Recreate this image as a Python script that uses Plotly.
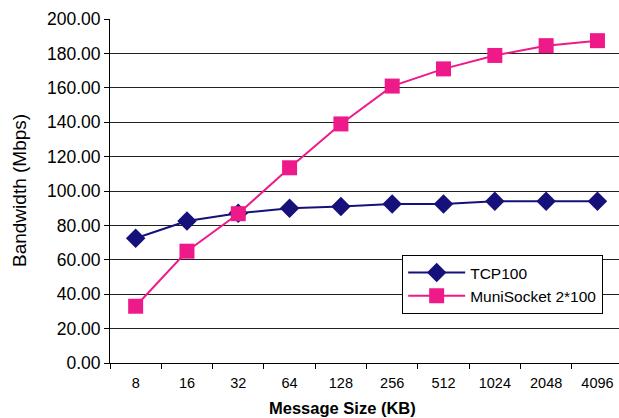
import plotly.graph_objects as go

categories = ["8", "16", "32", "64", "128", "256", "512", "1024", "2048", "4096"]
tcp100 = [72.5, 82.5, 87.0, 90.0, 91.0, 92.5, 92.5, 94.0, 94.0, 94.0]
munisocket = [33.0, 65.0, 86.8, 113.5, 139.0, 161.0, 171.0, 178.8, 184.5, 187.4]
y_ticks = [0, 20, 40, 60, 80, 100, 120, 140, 160, 180, 200]

NAVY = "#16107a"
PINK = "#ef1a8a"

fig = go.Figure()
fig.add_trace(go.Scatter(
    x=categories, y=tcp100, name="TCP100", mode="lines+markers",
    line=dict(color=NAVY, width=2),
    marker=dict(symbol="diamond", size=15, color=NAVY),
))
fig.add_trace(go.Scatter(
    x=categories, y=munisocket, name="MuniSocket 2*100", mode="lines+markers",
    line=dict(color=PINK, width=2),
    marker=dict(symbol="square", size=15, color=PINK),
))

fig.update_layout(
    width=619, height=418,
    margin=dict(l=110, r=0, t=19, b=55),
    plot_bgcolor="white", paper_bgcolor="white",
    font=dict(family="Liberation Sans, Arial", color="black"),
    showlegend=True,
    legend=dict(
        x=0.574, y=0.314, xanchor="left", yanchor="top",
        bgcolor="white", bordercolor="black", borderwidth=1,
        font=dict(size=15.5, family="Liberation Sans, Arial", color="black"),
        itemwidth=57, tracegroupgap=6,
    ),
    xaxis=dict(
        type="category", range=[-0.5, 9.42],
        showline=True, linecolor="black", linewidth=1,
        ticks="outside", tickson="boundaries", ticklen=5, tickcolor="black",
        showgrid=False,
        tickfont=dict(size=14.5),
        ticklabelstandoff=7,
    ),
    yaxis=dict(
        range=[0, 200], tickvals=y_ticks,
        tickformat=".2f",
        showline=True, linecolor="black", linewidth=1,
        ticks="outside", ticklen=5, tickcolor="black",
        showgrid=True, gridcolor="#222222", gridwidth=1,
        zeroline=False,
        tickfont=dict(size=17.5),
    ),
    annotations=[
        dict(text="<b>Message Size (KB)</b>", xref="paper", yref="paper",
             x=(342 - 110) / 509, y=-(408 - 363) / 344,
             xanchor="center", yanchor="middle", showarrow=False,
             font=dict(size=16.5)),
        dict(text="Bandwidth (Mbps)", xref="paper", yref="paper",
             x=-(110 - 19) / 509, y=(363 - 191) / 344,
             xanchor="center", yanchor="middle", showarrow=False,
             textangle=-90, font=dict(size=19)),
    ],
)

fig.write_html("out.html")
